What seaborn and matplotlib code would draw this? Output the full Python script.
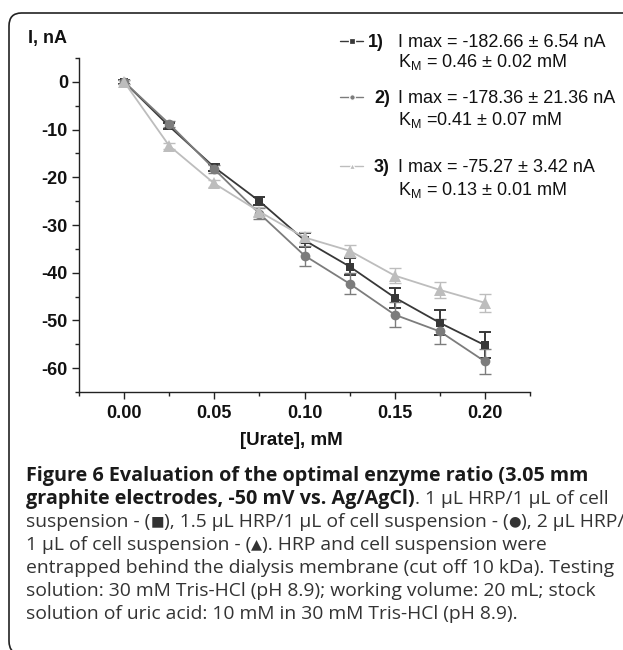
import matplotlib
matplotlib.use("Agg")
import matplotlib.pyplot as plt
import seaborn as sns
import pandas as pd
from matplotlib.patches import FancyBboxPatch
from matplotlib.lines import Line2D
from matplotlib.ticker import MultipleLocator, AutoMinorLocator

# urate concentration, mM
conc = [0.0, 0.025, 0.05, 0.075, 0.10, 0.125, 0.15, 0.175, 0.20]

# current response, nA
i_1 = [0.0, -9.3, -17.9, -25.0, -33.2, -38.7, -45.2, -50.5, -55.2]
err_1 = [0.4, 0.6, 0.7, 0.9, 1.5, 1.7, 2.1, 2.6, 2.7]
i_2 = [0.0, -8.8, -18.3, -27.6, -36.4, -42.3, -48.8, -52.3, -58.6]
err_2 = [0.4, 0.6, 0.8, 1.2, 2.1, 2.2, 2.6, 2.7, 2.7]
i_3 = [0.0, -13.4, -21.3, -27.2, -32.6, -35.4, -40.6, -43.6, -46.3]
err_3 = [0.4, 0.6, 0.8, 1.0, 1.2, 1.3, 1.5, 1.7, 1.9]

series = ["1", "2", "3"]
imax_txt = ["I max = -182.66 ± 6.54 nA", "I max = -178.36 ± 21.36 nA", "I max = -75.27 ± 3.42 nA"]
km_txt = [r"K$_\mathrm{M}$ = 0.46 ± 0.02 mM", r"K$_\mathrm{M}$ =0.41 ± 0.07 mM", r"K$_\mathrm{M}$ = 0.13 ± 0.01 mM"]

colors = {"1": "#383838", "2": "#7c7c7c", "3": "#bdbdbd"}
markers = {"1": "s", "2": "o", "3": "^"}
msize = {"1": 6, "2": 7, "3": 8}

df = pd.concat([
    pd.DataFrame({"conc": conc, "I": i_1, "err": err_1, "s": "1"}),
    pd.DataFrame({"conc": conc, "I": i_2, "err": err_2, "s": "2"}),
    pd.DataFrame({"conc": conc, "I": i_3, "err": err_3, "s": "3"}),
], ignore_index=True)

sns.set_style("ticks")
plt.rcParams["font.family"] = ["Liberation Sans", "DejaVu Sans"]
plt.rcParams["mathtext.fontset"] = "custom"
plt.rcParams["mathtext.rm"] = "Liberation Sans"
plt.rcParams["mathtext.bf"] = "Liberation Sans:bold"
plt.rcParams["mathtext.it"] = "Liberation Sans:italic"

W, H = 623, 650
fig = plt.figure(figsize=(W / 100, H / 100), dpi=100)


def fx(px):
    return px / W


def fy(py):
    return 1 - py / H


ax = fig.add_axes([fx(79), fy(392), fx(530) - fx(79), fy(58) - fy(392)])

for s in series:
    d = df[df["s"] == s]
    ax.errorbar(d["conc"], d["I"], yerr=d["err"], fmt="none", ecolor=colors[s],
                elinewidth=1.4 if s == "1" else 1.0, capsize=4.5,
                capthick=1.4 if s == "1" else 1.0, zorder=2)
    sns.lineplot(data=d, x="conc", y="I", color=colors[s], marker=markers[s],
                 markersize=msize[s], markeredgewidth=0, linewidth=1.3,
                 ax=ax, legend=False, zorder=3)

ax.set_xlim(-0.025, 0.225)
ax.set_ylim(-65, 5)
ax.xaxis.set_major_locator(MultipleLocator(0.05))
ax.xaxis.set_minor_locator(AutoMinorLocator(2))
ax.yaxis.set_major_locator(MultipleLocator(10))
ax.yaxis.set_minor_locator(AutoMinorLocator(2))
ax.set_xticks(ax.get_xticks())
ax.set_xticklabels([f"{v:.2f}" for v in ax.get_xticks()], fontweight="bold")
ax.set_yticks(ax.get_yticks())
ax.set_yticklabels([f"{v:.0f}" for v in ax.get_yticks()], fontweight="bold")
ax.set_xlim(-0.025, 0.225)
ax.set_ylim(-65, 5)
ax.tick_params(which="major", length=5, width=1, labelsize=13, color="#222222", labelcolor="#111111")
ax.tick_params(which="minor", length=3, width=1, color="#222222")
ax.tick_params(axis="x", pad=4)
ax.tick_params(axis="y", pad=3)
for side in ["top", "right"]:
    ax.spines[side].set_visible(False)
for side in ["left", "bottom"]:
    ax.spines[side].set_linewidth(1.0)
    ax.spines[side].set_color("#222222")
ax.set_xlabel("")
ax.set_ylabel("")

fig.text(fx(28), fy(43), "I, nA", fontsize=13, fontweight="bold", color="#111111", va="baseline")
fig.text(fx(291), fy(445), "[Urate], mM", fontsize=13.5, fontweight="bold", color="#111111",
         ha="center", va="baseline")

# legend drawn by hand (two-line entries)
main_base = [47, 103, 172]
km_base = [67, 125, 195]
num_x = [368, 374, 374]
for k, s in enumerate(series):
    yc = main_base[k] - 6.5
    fig.add_artist(Line2D([fx(340), fx(351.5), fx(363)], [fy(yc)] * 3, color=colors[s], lw=1.0,
                          marker=markers[s], markersize=4, markevery=[1], mec="white", mew=0.9))
    fig.text(fx(num_x[k]), fy(main_base[k]), s + ")", fontsize=13, fontweight="bold",
             color="#111111", va="baseline")
    fig.text(fx(398), fy(main_base[k]), imax_txt[k], fontsize=13, color="#111111", va="baseline")
    fig.text(fx(398), fy(km_base[k]), km_txt[k], fontsize=13, color="#111111", va="baseline")

# rounded frame
fig.add_artist(FancyBboxPatch((fx(9), fy(654)), fx(720) - fx(9), fy(13) - fy(654),
                              boxstyle="round,pad=0,rounding_size=0.02",
                              transform=fig.transFigure, fill=False, lw=1.2, ec="#222222"))

# caption
cap_font = ["Open Sans", "DejaVu Sans"]
bases = [481, 504, 527, 550, 573, 596, 619]
x0 = 26
x_right = 612
renderer = fig.canvas.get_renderer()


def width_at(text, size, weight="normal"):
    t = fig.text(0, 0, text, family=cap_font, fontsize=size, fontweight=weight)
    w = t.get_window_extent(renderer).width
    t.remove()
    return w


b1 = "Figure 6 Evaluation of the optimal enzyme ratio (3.05 mm"
b2 = "graphite electrodes, -50 mV vs. Ag/AgCl)"
bold_size = 0.5 * (11 * (x_right - x0) / width_at(b1, 11, "bold")
                   + 11 * (398 - x0) / width_at(b2, 11, "bold"))
reg_size = 11 * (x_right - x0) / width_at(
    "entrapped behind the dialysis membrane (cut off 10 kDa). Testing", 11)
sym_size = reg_size * 0.75


def draw_line(pieces, base):
    x = x0
    for text, kind in pieces:
        yb = base
        if kind == "b":
            kw = dict(fontsize=bold_size, fontweight="bold", color="#1a1a1a")
        elif kind == "s":
            kw = dict(fontsize=sym_size, color="#333333")
            yb = base - 2
        else:
            kw = dict(fontsize=reg_size, color="#333333")
        t = fig.text(fx(x), fy(yb), text, family=cap_font, va="baseline", **kw)
        x = t.get_window_extent(renderer).x1


cap_pieces = [
    [(b1, "b")],
    [(b2, "b"), (". 1 µL HRP/1 µL of cell", "r")],
    [("suspension - (", "r"), ("■", "s"), ("), 1.5 µL HRP/1 µL of cell suspension - (", "r"),
     ("●", "s"), ("), 2 µL HRP/", "r")],
    [("1 µL of cell suspension - (", "r"), ("▲", "s"), ("). HRP and cell suspension were", "r")],
    [("entrapped behind the dialysis membrane (cut off 10 kDa). Testing", "r")],
    [("solution: 30 mM Tris-HCl (pH 8.9); working volume: 20 mL; stock", "r")],
    [("solution of uric acid: 10 mM in 30 mM Tris-HCl (pH 8.9).", "r")],
]
for pieces, b in zip(cap_pieces, bases):
    draw_line(pieces, b)

fig.savefig("out.png", dpi=100)
